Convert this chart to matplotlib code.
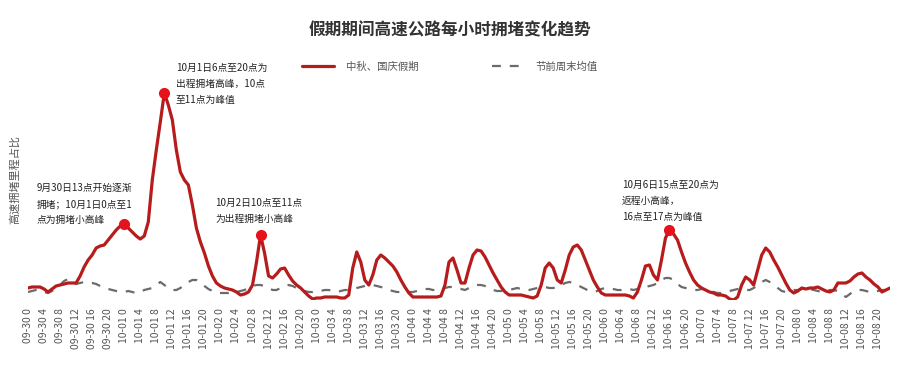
import matplotlib
matplotlib.use('Agg')
import numpy as np
import matplotlib.pyplot as plt

plt.rcParams['font.family'] = ['Noto Sans CJK SC', 'DejaVu Sans']

# 每小时拥堵（相对高度，无刻度）
holiday = [12, 13, 13, 13, 11, 8, 11, 14, 15, 16, 17, 17, 17,
           24, 33, 40, 45, 52, 54, 55, 60, 65, 70, 74, 76, 72, 68, 64, 61, 64,
           78, 120, 150, 178, 207,
           195, 180, 150, 128, 120, 115, 95, 72, 58, 47, 34, 24, 17, 14, 12, 11, 10, 8, 5, 6, 8,
           15, 38, 65, 47, 24, 22, 26, 31, 32, 25, 19, 15, 12, 8, 4, 1, 2, 2, 3, 3, 3, 3, 2, 2,
           5, 32, 48, 38, 20, 15, 25, 40, 45, 42, 38, 34, 28, 20, 13, 7, 3, 3, 3, 3, 3, 3, 3, 4,
           15, 38, 42, 30, 17, 17, 32, 45, 50, 49, 43, 35, 27, 20, 13, 8, 5, 5, 5, 5, 4, 3, 2, 4,
           15, 32, 37, 32, 20, 17, 30, 45, 53, 55, 50, 40, 30, 20, 13, 7, 5, 5, 5, 5, 5, 5, 4, 2,
           8, 20, 34, 35, 25, 20, 40, 62, 70, 66, 60, 48, 37, 28, 20, 15, 12, 10, 8, 7, 5, 5, 4, 1,
           0, 3, 15, 23, 20, 15, 30, 45, 52, 48, 40, 33, 25, 17, 10, 7, 9, 12, 11, 12, 12, 13, 11, 9,
           8, 10, 17, 17, 17, 19, 23, 26, 27, 23, 20, 16, 13, 8, 10, 12]

weekend = [8, 9, 10, 10, 8, 7, 9, 12, 15, 19, 21, 18, 16, 17, 18, 17, 17, 16, 14, 12, 11, 10, 9, 8,
           8, 9, 8, 7, 8, 10, 11, 12, 15, 18, 15, 12, 10, 10, 12, 15, 18, 20, 20, 17, 14, 11, 9, 7,
           7, 7, 7, 8, 8, 9, 10, 12, 14, 15, 15, 14, 12, 10, 10, 12, 14, 15, 14, 12, 10, 9, 8, 8,
           9, 9, 10, 10, 9, 8, 9, 10, 10, 11, 12, 13, 14, 15, 15, 14, 13, 12, 10, 9, 8, 8, 8, 8,
           8, 9, 10, 11, 11, 10, 10, 11, 12, 13, 13, 12, 11, 10, 12, 14, 15, 15, 14, 12, 10, 9, 9, 9,
           10, 11, 12, 11, 10, 10, 11, 12, 13, 13, 12, 12, 13, 15, 17, 18, 17, 15, 13, 11, 9, 8, 9, 11,
           12, 12, 11, 10, 10, 11, 11, 10, 11, 12, 13, 14, 15, 17, 20, 22, 22, 20, 16, 13, 12, 11, 10, 10,
           11, 11, 10, 8, 7, 7, 8, 9, 10, 11, 11, 10, 10, 12, 15, 18, 20, 18, 15, 12, 9, 8, 9, 10,
           10, 11, 12, 11, 10, 9, 8, 9, 10, 10, 9, 6, 3, 6, 9, 10, 10, 9, 8, 8, 9, 10, 10, 10]

days = ['09-30', '10-01', '10-02', '10-03', '10-04', '10-05', '10-06', '10-07', '10-08']
tick_hours = [0, 4, 8, 12, 16, 20]
tick_labels = [f'{d} {h}' for d in days for h in tick_hours]

peak_idx = [24, 34, 58, 160]
notes = ['9月30日13点开始逐渐\n拥堵；10月1日0点至1\n点为拥堵小高峰',
         '10月1日6点至20点为\n出程拥堵高峰，10点\n至11点为峰值',
         '10月2日10点至11点\n为出程拥堵小高峰',
         '10月6日15点至20点为\n返程小高峰，\n16点至17点为峰值']
note_pos = [(37, 204), (176, 84), (215, 211), (622, 201)]

hours = np.arange(len(holiday))

fig = plt.figure(figsize=(9, 3.7), dpi=100)
ax = fig.add_axes([28 / 900, 70 / 370, 862 / 900, 215 / 370])

ax.plot(hours, holiday, color='#B71C1C', lw=2.3, solid_capstyle='round',
        label='中秋、国庆假期', zorder=3)
ax.plot(hours, weekend, color='#6b6b6b', lw=1.6, dashes=(4, 4),
        label='节前周末均值', zorder=2)
ax.plot(peak_idx, [holiday[i] for i in peak_idx], 'o', color='#E5131B',
        ms=7, zorder=4)

ax.set_xlim(0, len(holiday) - 1)
ax.set_ylim(0, 215)
ax.set_xticks(np.arange(0, len(tick_labels) * 4, 4))
ax.set_xticklabels(tick_labels, rotation=90, fontsize=7.5, color='#555555')
ax.tick_params(axis='x', length=0, pad=6)
ax.set_yticks([])
for s in ax.spines.values():
    s.set_visible(False)

fig.text(0.5, 1 - 30 / 370, '假期期间高速公路每小时拥堵变化趋势', ha='center',
         va='center', fontsize=12, fontweight='bold', color='#333333')
fig.text(15 / 900, 1 - 180 / 370, '高速拥堵里程占比', rotation=90, ha='center',
         va='center', fontsize=8, color='#555555')

leg = fig.legend(loc='center', bbox_to_anchor=(450 / 900, 1 - 67 / 370), ncol=2,
                 frameon=False, fontsize=7.5, handlelength=3, columnspacing=7,
                 handletextpad=1.2)
for t in leg.get_texts():
    t.set_color('#555555')

for txt, (px, py) in zip(notes, note_pos):
    fig.text(px / 900, 1 - py / 370, txt, ha='left', va='center', fontsize=7,
             color='#222222', linespacing=1.75)

fig.savefig('out.png', dpi=100)
